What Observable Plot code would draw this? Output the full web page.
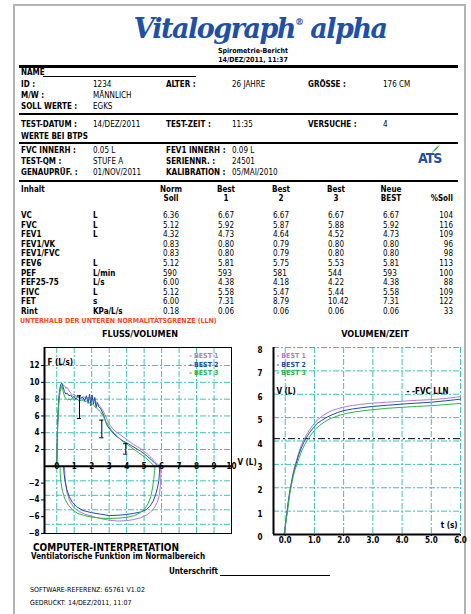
<!DOCTYPE html>
<html><head><meta charset="utf-8">
<script src="https://cdn.jsdelivr.net/npm/d3@7"></script>
<script src="https://cdn.jsdelivr.net/npm/@observablehq/plot@0.6"></script>
<style>
body{margin:0;background:#fff;}
#page{position:relative;width:471px;height:614px;overflow:hidden;font-family:"Liberation Sans Narrow","DejaVu Sans Condensed","Liberation Sans",sans-serif;color:#000;}
.t{position:absolute;white-space:nowrap;line-height:1;font-size:8px;}
.box{position:absolute;}
</style></head><body><div id="page"></div>
<script>
// ---------- data ----------
const reportTitle = "Spirometrie-Bericht";
const reportDate = "14/DEZ/2011, 11:37";
const patientLabels = ["ID :", "ALTER :", "GRÖSSE :"];
const patientValues = ["1234", "26 JAHRE", "176 CM"];
const sexLabel = "M/W :", sexValue = "MÄNNLICH";
const refLabel = "SOLL WERTE :", refValue = "EGKS";
const testLabels = ["TEST-DATUM :", "TEST-ZEIT :", "VERSUCHE :"];
const testValues = ["14/DEZ/2011", "11:35", "4"];
const btpsLabel = "WERTE BEI BTPS";
const qualLabelsA = ["FVC INNERH :", "TEST-QM :", "GENAUPRÜF. :"];
const qualValuesA = ["0.05 L", "STUFE  A", "01/NOV/2011"];
const qualLabelsB = ["FEV1 INNERH :", "SERIENNR. :", "KALIBRATION :"];
const qualValuesB = ["0.09 L", "24501", "05/MAI/2010"];

const tableHead1 = ["Norm", "Best", "Best", "Best", "Neue"];
const tableHead2 = ["Soll", "1", "2", "3", "BEST"];
const rowLabels = ["VC","FVC","FEV1","FEV1/VK","FEV1/FVC","FEV6","PEF","FEF25-75","FIVC","FET","Rint"];
const units     = ["L","L","L","","","L","L/min","L/s","L","s","KPa/L/s"];
const normSoll  = ["6.36","5.12","4.32","0.83","0.83","5.12","590","6.00","5.12","6.00","0.18"];
const best1     = ["6.67","5.92","4.73","0.80","0.80","5.81","593","4.38","5.58","7.31","0.06"];
const best2     = ["6.67","5.87","4.64","0.79","0.79","5.75","581","4.18","5.47","8.79","0.06"];
const best3     = ["6.67","5.88","4.52","0.80","0.80","5.53","544","4.22","5.44","10.42","0.06"];
const neueBest  = ["6.67","5.92","4.73","0.80","0.80","5.81","593","4.38","5.58","7.31","0.06"];
const pctSoll   = ["104","116","109","96","98","113","100","88","109","122","33"];
const llnNote = "UNTERHALB DER UNTEREN NORMALITÄTSGRENZE (LLN)";

const seriesNames = ["BEST 1", "BEST 2", "BEST 3"];

// Flow / volume loops (volume L, flow L/s)
const fvVol1 = [0,0.02,0.05,0.09,0.14,0.2,0.28,0.36,0.44,0.52,0.6,0.7,0.8,0.9,1.0,1.1,1.25,1.4,1.55,1.7,1.85,2.0,2.15,2.3,2.45,2.6,2.75,2.9,3.05,3.2,3.4,3.6,3.8,4.0,4.2,4.4,4.6,4.8,5.0,5.2,5.4,5.6,5.8,5.92,
  5.96,5.94,5.88,5.78,5.62,5.42,5.15,4.8,4.4,4.0,3.5,3.0,2.5,2.0,1.6,1.25,0.95,0.75,0.6,0.52,0.47,0.44];
const fvFlow1 = [0,2.0,4.5,6.5,8.0,8.9,9.4,9.7,9.6,9.3,9.4,9.0,8.7,8.5,8.6,8.3,8.4,8.2,8.3,8.1,8.2,8.0,7.9,7.6,7.2,6.8,6.2,5.5,4.9,4.5,4.1,3.8,3.5,3.2,2.9,2.6,2.35,2.1,1.8,1.45,1.05,0.6,0.2,0,
  -1.0,-2.5,-3.8,-4.8,-5.6,-6.2,-6.7,-7.1,-7.35,-7.5,-7.55,-7.45,-7.2,-6.9,-6.6,-6.2,-5.6,-4.8,-3.8,-2.6,-1.3,0];
const fvVol2 = [0,0.02,0.05,0.09,0.13,0.18,0.24,0.3,0.36,0.44,0.52,0.6,0.7,0.8,0.9,1.0,1.1,1.2,1.35,1.5,1.6,1.7,1.8,1.88,1.95,2.02,2.1,2.18,2.25,2.32,2.4,2.5,2.6,2.7,2.8,2.9,3.05,3.2,3.4,3.6,3.8,4.0,4.2,4.4,4.6,4.8,5.0,5.2,5.4,5.6,5.75,5.87,
  5.88,5.84,5.76,5.65,5.5,5.3,5.1,4.8,4.4,4.0,3.5,3.0,2.5,2.0,1.5,1.15,0.9,0.72,0.58,0.48,0.42,0.39];
const fvFlow2 = [0,2.5,5.0,7.0,8.4,9.3,9.8,9.9,9.5,8.9,8.6,8.7,8.4,8.5,8.2,8.3,8.0,8.3,8.1,8.2,7.8,8.4,7.5,8.6,7.2,8.5,7.4,8.2,7.0,7.6,7.1,6.9,6.5,6.0,5.3,4.8,4.4,4.0,3.6,3.3,3.0,2.8,2.55,2.3,2.05,1.8,1.5,1.15,0.8,0.4,0.1,0,
  -0.8,-2.0,-3.0,-4.0,-4.9,-5.6,-6.0,-6.3,-6.5,-6.65,-6.75,-6.8,-6.6,-6.4,-6.1,-5.6,-5.0,-4.2,-3.2,-2.1,-1.0,0];
const fvVol3 = [0,0.02,0.05,0.09,0.13,0.18,0.24,0.3,0.36,0.42,0.5,0.6,0.7,0.8,0.9,1.0,1.15,1.3,1.45,1.6,1.75,1.9,2.05,2.2,2.35,2.5,2.65,2.8,2.95,3.1,3.3,3.5,3.7,3.9,4.1,4.3,4.5,4.7,4.9,5.1,5.3,5.5,5.62,
  5.6,5.55,5.48,5.38,5.22,5.02,4.78,4.45,4.0,3.5,3.0,2.5,2.0,1.6,1.2,0.9,0.65,0.45,0.32,0.24,0.2,0.19];
const fvFlow3 = [0,2.4,4.8,6.8,8.2,9.0,9.5,9.6,9.0,8.5,8.1,7.9,8.0,7.9,8.1,7.9,8.0,7.8,7.9,7.7,7.8,7.5,7.4,7.1,6.8,6.5,6.0,5.4,4.9,4.4,3.9,3.5,3.1,2.8,2.5,2.2,1.9,1.6,1.3,1.0,0.6,0.2,0,
  -0.6,-1.8,-3.0,-4.2,-5.2,-5.9,-6.4,-6.8,-7.05,-7.15,-7.2,-7.15,-7.0,-6.8,-6.5,-6.0,-5.3,-4.4,-3.3,-2.2,-1.0,0];
// predicted ranges shown as I-bars on the flow/volume chart
const normVol = [1.3, 2.58, 3.95];
const normHi  = [8.4, 5.5, 2.7];
const normLo  = [5.7, 3.4, 1.45];

// Volume / time (time s, volume L)
const vtTime1 = [-0.04,0.0,0.03,0.06,0.1,0.14,0.19,0.25,0.31,0.37,0.45,0.53,0.62,0.72,0.83,0.95,1.1,1.25,1.4,1.6,1.8,2.0,2.3,2.6,3.0,3.5,4.0,4.5,5.0,5.5,5.9,6.0];
const vtVol1  = [0,0.4,0.7,1.0,1.4,1.75,2.1,2.5,2.85,3.1,3.45,3.75,4.0,4.25,4.47,4.68,4.9,5.05,5.18,5.3,5.38,5.45,5.52,5.57,5.62,5.66,5.7,5.74,5.77,5.82,5.88,5.9];
const vtTime2 = [-0.03,0.01,0.04,0.07,0.11,0.15,0.2,0.26,0.32,0.38,0.46,0.55,0.64,0.74,0.85,0.97,1.1,1.25,1.4,1.6,1.8,2.0,2.3,2.6,3.0,3.5,4.0,4.5,5.0,5.5,6.0];
const vtVol2  = [0,0.4,0.7,1.0,1.4,1.75,2.1,2.5,2.8,3.05,3.4,3.7,3.95,4.18,4.38,4.58,4.76,4.88,5.0,5.12,5.22,5.3,5.37,5.42,5.48,5.53,5.58,5.62,5.66,5.72,5.79];
const vtTime3 = [-0.03,0.01,0.04,0.08,0.12,0.16,0.21,0.27,0.33,0.4,0.48,0.57,0.67,0.78,0.9,1.03,1.18,1.35,1.5,1.7,1.9,2.1,2.4,2.7,3.0,3.5,4.0,4.5,5.0,5.5,6.0];
const vtVol3  = [0,0.4,0.7,1.0,1.4,1.75,2.1,2.45,2.75,3.0,3.3,3.6,3.85,4.08,4.3,4.5,4.67,4.82,4.93,5.03,5.12,5.18,5.25,5.3,5.34,5.4,5.44,5.48,5.51,5.56,5.61];
const fvcLln = 4.1;

const fvXTicks = [0,1,2,3,4,5,6,7,8,9,10];
const fvYTicks = [-8,-6,-4,-2,2,4,6,8,10,12];
const vtXTicks = [0,1,2,3,4,5,6];
const vtYTicks = [0,1,2,3,4,5,6,7,8];

// ---------- styles ----------
const colors = ["#b27ccb", "#1b4fa6", "#2cb34a"];
const gridColor = "#3ec0bd";
const FONT = '"Liberation Sans Narrow","DejaVu Sans Condensed","Liberation Sans",sans-serif';

const page = document.getElementById("page");
function txt(x, y, s, o = {}) {
  const d = document.createElement("div");
  d.className = "t";
  d.textContent = s;
  d.style.left = x + "px";
  d.style.top = y + "px";
  const a = o.align || "left";
  const tx = a === "left" ? "0" : a === "center" ? "-50%" : "-100%";
  d.style.transform = `translate(${tx},-50%)`;
  if (o.bold) d.style.fontWeight = "bold";
  if (o.size) d.style.fontSize = o.size + "px";
  if (o.color) d.style.color = o.color;
  if (o.family) d.style.fontFamily = o.family;
  if (o.style) d.style.fontStyle = o.style;
  page.appendChild(d);
  return d;
}
function box(x, y, w, h, c) {
  const d = document.createElement("div");
  d.className = "box";
  Object.assign(d.style, {left: x + "px", top: y + "px", width: w + "px", height: h + "px", background: c});
  page.appendChild(d);
}

// page frame
box(13, 4, 453, 2, "#b4b4b4");
box(13, 4, 2, 610, "#b4b4b4");
box(464, 4, 2, 610, "#b4b4b4");

// logo
const logo = txt(260, 28, "", {align: "center", bold: true, size: 27, color: "#2050a6", family: '"DejaVu Serif",serif', style: "italic"});
logo.innerHTML = 'Vitalograph<span style="font-size:9px;vertical-align:13px">®</span> alpha';
logo.style.letterSpacing = "-1.5px";

txt(253, 51, reportTitle, {align: "center", bold: true, size: 7});
txt(253, 60, reportDate, {align: "center", bold: true, size: 7});

// separators
box(19, 65, 439, 3, "#000");
box(19, 113, 439, 2, "#000");
box(19, 142, 439, 2, "#000");
box(19, 180, 439, 2, "#000");

// patient block
txt(21, 73, "NAME", {bold: true});
box(43, 76, 153, 1, "#000");
const c3 = [[21, 93], [166, 232], [308, 383]];
patientLabels.forEach((l, i) => { txt(c3[i][0], 85, l, {bold: true}); txt(c3[i][1], 85, patientValues[i]); });
txt(21, 96, sexLabel, {bold: true}); txt(93, 96, sexValue);
txt(21, 107, refLabel, {bold: true}); txt(93, 107, refValue);
testLabels.forEach((l, i) => { txt(c3[i][0], 125, l, {bold: true}); txt(c3[i][1], 125, testValues[i]); });
txt(21, 137, btpsLabel, {bold: true});
qualLabelsA.forEach((l, i) => {
  const y = 151 + i * 11;
  txt(21, y, l, {bold: true}); txt(93, y, qualValuesA[i]);
  txt(166, y, qualLabelsB[i], {bold: true}); txt(232, y, qualValuesB[i]);
});
// ATS logo
const ats = txt(418, 158, "ATS", {bold: true, size: 14, color: "#1f4fa0", family: '"DejaVu Sans Condensed","DejaVu Sans",sans-serif'});
ats.style.letterSpacing = "-1px";
const leaf = document.createElementNS("http://www.w3.org/2000/svg", "svg");
leaf.setAttribute("width", 12); leaf.setAttribute("height", 12);
leaf.style.position = "absolute"; leaf.style.left = "429px"; leaf.style.top = "144px";
leaf.innerHTML = '<path d="M2 11 C4 6 7 3 11 1 C9 4 7 6 4 8 Z" fill="#2e9e3a"/>';
page.appendChild(leaf);

// table
const colX = [163, 218, 273, 328, 383];
txt(21, 190, "Inhalt", {bold: true});
tableHead1.forEach((h, i) => txt(colX[i] + 8, 190, h, {bold: true, align: "center"}));
tableHead2.forEach((h, i) => txt(colX[i] + 8, 199, h, {bold: true, align: "center"}));
txt(453, 199, "%Soll", {bold: true, align: "right"});
const cols = [normSoll, best1, best2, best3, neueBest];
rowLabels.forEach((r, i) => {
  const y = 216 + i * 9.6;
  txt(21, y, r, {bold: true});
  txt(93, y, units[i], {bold: true});
  cols.forEach((c, j) => txt(colX[j], y, c[i]));
  txt(453, y, pctSoll[i], {align: "right"});
});
txt(20, 321, llnNote, {bold: true, size: 7, color: "#f5481e"});

// chart titles
txt(140, 334, "FLUSS/VOLUMEN", {bold: true, size: 9, align: "center"});
txt(375, 334, "VOLUMEN/ZEIT", {bold: true, size: 9, align: "center"});

// ---------- charts ----------
const gridStyle = {stroke: gridColor, strokeOpacity: 1, strokeWidth: 1, strokeDasharray: "6,2,2,2"};
const fvSeries = [[fvVol1, fvFlow1], [fvVol2, fvFlow2], [fvVol3, fvFlow3]].map(([v, f]) => v.map((x, i) => ({v: x, f: f[i]})));
const vtSeries = [[vtTime1, vtVol1], [vtTime2, vtVol2], [vtTime3, vtVol3]].map(([t, v]) => t.map((x, i) => ({t: x, v: v[i]})));
const fvXMin = -0.7, fvXMax = 10;
const normIdx = normVol.map((_, i) => i);
const caps = normIdx.flatMap(i => [{v: normVol[i], f: normHi[i]}, {v: normVol[i], f: normLo[i]}]);
// the printed flow axis is drawn more compressed below zero (inspiration) than above
const inspK = 0.863;

const fv = Plot.plot({
  width: 255, height: 225,
  marginLeft: 44, marginRight: 24, marginTop: 22, marginBottom: 17,
  style: {fontFamily: FONT, fontSize: "8px", fontWeight: "bold", background: "transparent", overflow: "visible"},
  x: {domain: [fvXMin, fvXMax], axis: null},
  y: {domain: [-8, 14.15], transform: f => f < 0 ? f * inspK : f},
  marks: [
    Plot.gridX(fvXTicks.slice(0, -1), gridStyle),
    Plot.gridY(fvYTicks, gridStyle),
    ...fvSeries.map((s, i) => Plot.line(s, {x: "v", y: "f", stroke: colors[i], strokeWidth: 1})),
    Plot.ruleX(normIdx, {x: i => normVol[i], y1: i => normLo[i], y2: i => normHi[i], stroke: "black"}),
    Plot.ruleY(caps, {y: "f", x1: d => d.v - 0.12, x2: d => d.v + 0.12, stroke: "black"}),
    Plot.ruleY([0], {stroke: "black", strokeWidth: 2}),
    Plot.frame({stroke: "black"}),
    Plot.ruleX([fvXMin], {stroke: "black", strokeWidth: 2}),
    Plot.axisY({ticks: fvYTicks, tickSize: 3, tickPadding: 2, label: null}),
    Plot.text(fvXTicks, {x: d => d, y: () => 0, text: d => String(d), fill: "black"}),
    Plot.text(["V (L)"], {x: () => fvXMax, y: () => 0, text: d => d, dx: 6, dy: -4, textAnchor: "start"}),
    Plot.text(["F (L/s)"], {frameAnchor: "top-left", text: d => d, dx: 3, dy: 12, textAnchor: "start"}),
    ...seriesNames.map((n, i) => Plot.text([n], {frameAnchor: "top-right", text: d => "- " + d, dx: -13, dy: 6 + i * 8.5, textAnchor: "end", fill: colors[i], fontSize: 7}))
  ]
});
Object.assign(fv.style, {position: "absolute", left: "0px", top: "325px"});
page.appendChild(fv);

const vtXMin = -0.4;
const vt = Plot.plot({
  width: 236, height: 225,
  marginLeft: 38, marginRight: 11, marginTop: 22, marginBottom: 16,
  style: {fontFamily: FONT, fontSize: "8px", fontWeight: "bold", background: "transparent", overflow: "visible"},
  x: {domain: [vtXMin, 6]},
  y: {domain: [0, 8]},
  marks: [
    Plot.gridX(vtXTicks, gridStyle),
    Plot.gridY(vtYTicks.slice(1), gridStyle),
    Plot.ruleY([fvcLln], {stroke: "black", strokeDasharray: "7,3,2,3"}),
    ...vtSeries.map((s, i) => Plot.line(s, {x: "t", y: "v", stroke: colors[i], strokeWidth: 1})),
    Plot.ruleX([vtXMin], {stroke: "black", strokeWidth: 2}),
    Plot.ruleY([0], {stroke: "black", strokeWidth: 2}),
    Plot.axisY({ticks: vtYTicks, tickSize: 0, tickPadding: 11, dy: 3, label: null}),
    Plot.axisX({ticks: vtXTicks, tickSize: 2, tickPadding: 1, label: null}),
    Plot.text(["V (L)"], {frameAnchor: "top-left", text: d => d, dx: 3, dy: 41, textAnchor: "start"}),
    Plot.text(["- -FVC LLN"], {frameAnchor: "top-right", text: d => d, dx: -12, dy: 41, textAnchor: "end"}),
    Plot.text(["t (s)"], {frameAnchor: "bottom-right", text: d => d, dx: -3, dy: -7, textAnchor: "end"}),
    ...seriesNames.map((n, i) => Plot.text([n], {frameAnchor: "top-left", text: d => "- " + d, dx: 3, dy: 6 + i * 8.5, textAnchor: "start", fill: colors[i], fontSize: 7}))
  ]
});
Object.assign(vt.style, {position: "absolute", left: "235px", top: "325px"});
page.appendChild(vt);

// footer
txt(33, 548, "COMPUTER-INTERPRETATION", {bold: true, size: 10});
txt(31, 557, "Ventilatorische Funktion im Normalbereich", {bold: true, size: 8});
txt(218, 572, "Unterschrift", {bold: true, size: 8, align: "right"});
box(220, 575, 110, 1, "#000");
txt(30, 590, "SOFTWARE-REFERENZ: 65761 V1.02", {size: 7});
txt(30, 603, "GEDRUCKT: 14/DEZ/2011, 11:07", {size: 7});
</script>
</body></html>
